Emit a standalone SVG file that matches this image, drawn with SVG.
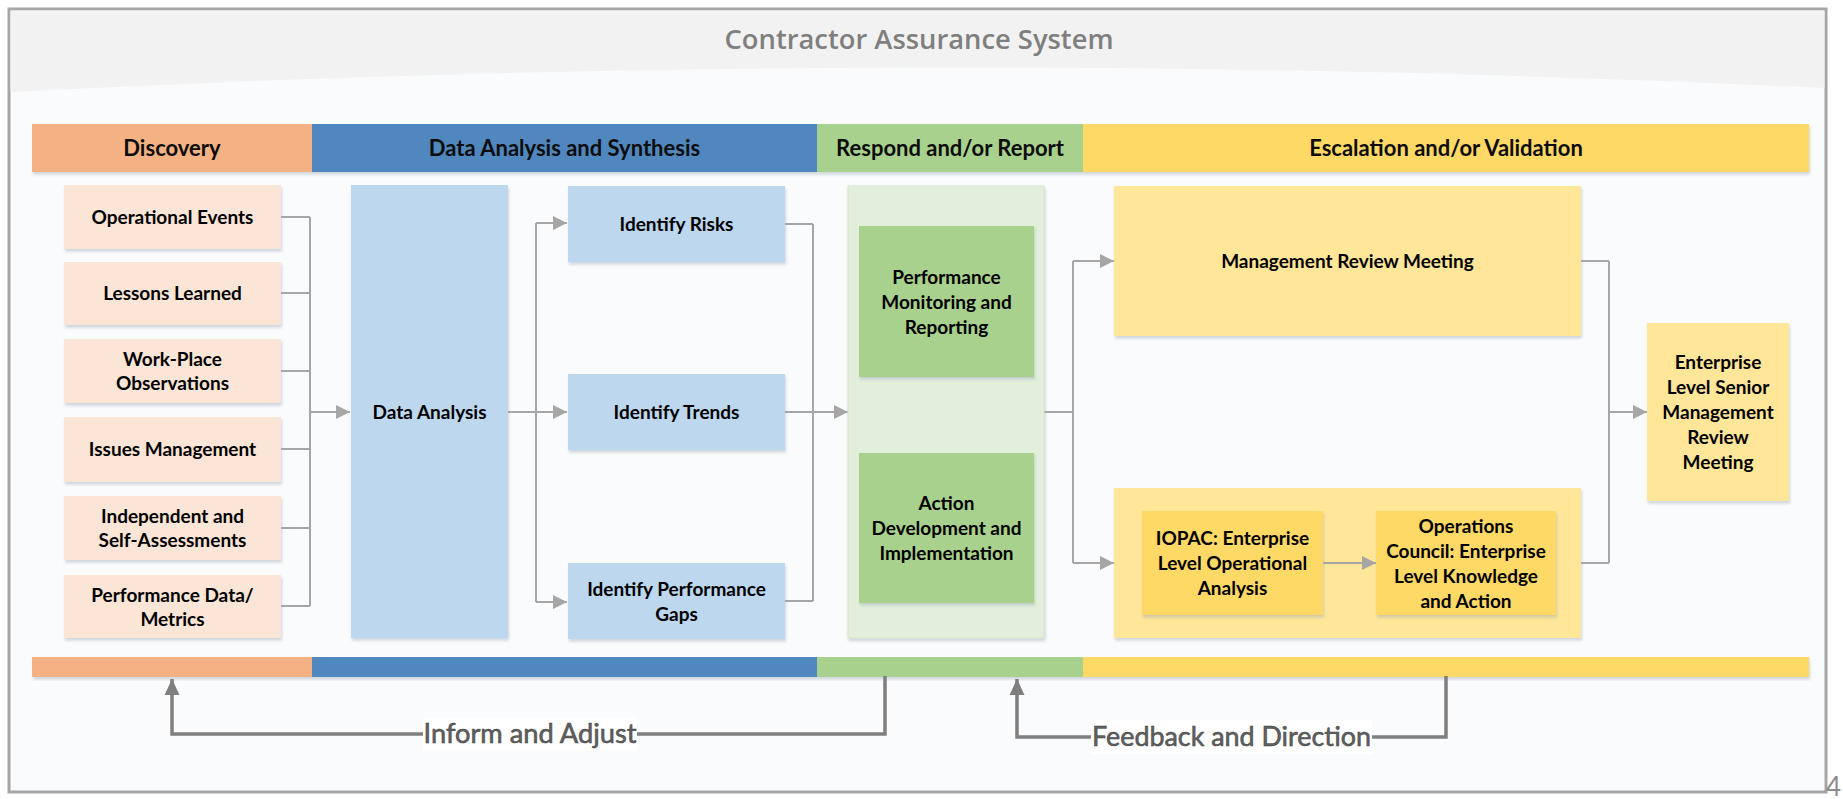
<svg xmlns="http://www.w3.org/2000/svg" width="1843" height="799" viewBox="0 0 1843 799">
<defs>
<filter id="sh" x="-10%" y="-10%" width="120%" height="130%">
<feDropShadow dx="1" dy="2.5" stdDeviation="1.5" flood-color="#9aa8b8" flood-opacity="0.45"/>
</filter>
<marker id="ah" markerUnits="userSpaceOnUse" markerWidth="14" markerHeight="14" refX="14" refY="7" orient="auto">
<path d="M0,0 L14,7 L0,14 Z" fill="#a6a6a6"/>
</marker>
<marker id="fb" markerUnits="userSpaceOnUse" markerWidth="16" markerHeight="16" refX="16" refY="8" orient="auto">
<path d="M0,0.5 L16,8 L0,15.5 Z" fill="#7f7f7f"/>
</marker>
<style>
.t{font-family:Lato,"Liberation Sans",sans-serif;font-weight:700;font-size:19px;fill:#000;text-anchor:middle}
.h{font-family:Lato,"Liberation Sans",sans-serif;font-weight:700;font-size:22px;fill:#0d0d0d;text-anchor:middle}
.fbt{font-family:Lato,"Liberation Sans",sans-serif;font-weight:400;font-size:26px;fill:#606060;stroke:#404040;stroke-width:0.5;text-anchor:middle}
.c{fill:none;stroke:#a6a6a6;stroke-width:2}
.f{fill:none;stroke:#7f7f7f;stroke-width:3.5}
.or{fill:#FBE5D6}
.bl{fill:#BDD7EE}
.gn{fill:#A9D18E}
.yl{fill:#FFE699}
.yd{fill:#FFD966}
</style>
</defs>

<g id="frame">
<rect x="9" y="9" width="1817" height="783" fill="#fafbfc" stroke="#a6a6a6" stroke-width="3"/>
<path d="M10.5,10.5 H1824.5 V88 Q920,45 10.5,92 Z" fill="#f2f2f2"/>
<text x="919" y="49" font-family="'Open Sans','Liberation Sans',sans-serif" font-weight="600" font-size="26.5" fill="#7f7f7f" text-anchor="middle" textLength="389" lengthAdjust="spacingAndGlyphs">Contractor Assurance System</text>
<text x="1826" y="796" font-family="Lato,'Liberation Sans',sans-serif" font-size="26" fill="#8c8c8c">4</text>
</g>

<g id="phase-headers" filter="url(#sh)">
<rect x="32" y="124" width="280" height="48" fill="#F4B183"/>
<rect x="312" y="124" width="505" height="48" fill="#4F87BE"/>
<rect x="817" y="124" width="266" height="48" fill="#A9D18E"/>
<rect x="1083" y="124" width="726" height="48" fill="#FFD966"/>
</g>
<g id="phase-header-labels">
<text class="h" x="172" y="156">Discovery</text>
<text class="h" x="564.5" y="156">Data Analysis and Synthesis</text>
<text class="h" x="950" y="156">Respond and/or Report</text>
<text class="h" x="1446" y="156" font-size="22.5">Escalation and/or Validation</text>
</g>

<g id="phase-footers" filter="url(#sh)">
<rect x="32" y="657" width="280" height="20" fill="#F4B183"/>
<rect x="312" y="657" width="505" height="20" fill="#4F87BE"/>
<rect x="817" y="657" width="266" height="20" fill="#A9D18E"/>
<rect x="1083" y="657" width="726" height="20" fill="#FFD966"/>
</g>

<g id="connectors">
<path class="c" d="M281,217 H310 M281,293 H310 M281,371 H310 M281,449 H310 M281,528 H310 M281,606 H310 M310,217 V606"/>
<path class="c" d="M310,412 H350" marker-end="url(#ah)"/>
<path class="c" d="M508,412 H536 M536,223 V602"/>
<path class="c" d="M536,223 H567" marker-end="url(#ah)"/>
<path class="c" d="M536,412 H567" marker-end="url(#ah)"/>
<path class="c" d="M536,602 H567" marker-end="url(#ah)"/>
<path class="c" d="M785,224 H813 M785,412 H813 M785,601 H813 M813,224 V601"/>
<path class="c" d="M813,412 H848" marker-end="url(#ah)"/>
<path class="c" d="M1044,412 H1073 M1073,261 V563"/>
<path class="c" d="M1073,261 H1114" marker-end="url(#ah)"/>
<path class="c" d="M1073,563 H1114" marker-end="url(#ah)"/>
<path class="c" d="M1581,261 H1609 M1581,563 H1609 M1609,261 V563"/>
<path class="c" d="M1609,412 H1647" marker-end="url(#ah)"/>
</g>

<g id="n-operational-events"><rect class="or" x="64" y="185" width="217" height="64" filter="url(#sh)"/><text class="t" x="172.5" y="224">Operational Events</text></g>
<g id="n-lessons-learned"><rect class="or" x="64" y="262" width="217" height="63" filter="url(#sh)"/><text class="t" x="172.5" y="300">Lessons Learned</text></g>
<g id="n-work-place"><rect class="or" x="64" y="339" width="217" height="64" filter="url(#sh)"/><text class="t" x="172.5" y="366">Work-Place</text><text class="t" x="172.5" y="390">Observations</text></g>
<g id="n-issues-management"><rect class="or" x="64" y="417" width="217" height="65" filter="url(#sh)"/><text class="t" x="172.5" y="456">Issues Management</text></g>
<g id="n-independent"><rect class="or" x="64" y="496" width="217" height="64" filter="url(#sh)"/><text class="t" x="172.5" y="523">Independent and</text><text class="t" x="172.5" y="547">Self-Assessments</text></g>
<g id="n-performance-data"><rect class="or" x="64" y="575" width="217" height="63" filter="url(#sh)"/><text class="t" x="172.5" y="602">Performance Data/</text><text class="t" x="172.5" y="626">Metrics</text></g>

<g id="n-data-analysis"><rect class="bl" x="351" y="185" width="157" height="453" filter="url(#sh)"/><text class="t" x="429.5" y="419">Data Analysis</text></g>
<g id="n-identify-risks"><rect class="bl" x="568" y="186" width="217" height="76" filter="url(#sh)"/><text class="t" x="676.5" y="231">Identify Risks</text></g>
<g id="n-identify-trends"><rect class="bl" x="568" y="374" width="217" height="76" filter="url(#sh)"/><text class="t" x="676.5" y="419">Identify Trends</text></g>
<g id="n-identify-gaps"><rect class="bl" x="568" y="563" width="217" height="76" filter="url(#sh)"/><text class="t" x="676.5" y="596">Identify Performance</text><text class="t" x="676.5" y="621">Gaps</text></g>

<g id="n-respond-container"><rect x="848" y="186" width="196" height="452" fill="#E2EFDA" stroke="#d6e6cc" stroke-width="1" filter="url(#sh)"/></g>
<g id="n-performance-monitoring"><rect class="gn" x="859" y="226" width="175" height="151" filter="url(#sh)"/><text class="t" x="946.5" y="284">Performance</text><text class="t" x="946.5" y="309">Monitoring and</text><text class="t" x="946.5" y="334">Reporting</text></g>
<g id="n-action-development"><rect class="gn" x="859" y="453" width="175" height="150" filter="url(#sh)"/><text class="t" x="946.5" y="510">Action</text><text class="t" x="946.5" y="535">Development and</text><text class="t" x="946.5" y="560">Implementation</text></g>

<g id="n-management-review"><rect class="yl" x="1114" y="186" width="467" height="150" filter="url(#sh)"/><text class="t" x="1347.5" y="268">Management Review Meeting</text></g>
<g id="n-enterprise-container"><rect class="yl" x="1114" y="488" width="467" height="150" filter="url(#sh)"/></g>
<g id="n-iopac"><rect class="yd" x="1142" y="511" width="181" height="104" filter="url(#sh)"/><text class="t" x="1232.5" y="545">IOPAC: Enterprise</text><text class="t" x="1232.5" y="570">Level Operational</text><text class="t" x="1232.5" y="595">Analysis</text></g>
<g id="n-operations-council"><rect class="yd" x="1376" y="511" width="180" height="104" filter="url(#sh)"/><text class="t" x="1466" y="533">Operations</text><text class="t" x="1466" y="558">Council: Enterprise</text><text class="t" x="1466" y="583">Level Knowledge</text><text class="t" x="1466" y="608">and Action</text></g>
<g id="n-enterprise-senior"><rect class="yl" x="1647" y="323" width="142" height="178" filter="url(#sh)"/><text class="t" x="1718" y="369">Enterprise</text><text class="t" x="1718" y="394">Level Senior</text><text class="t" x="1718" y="419">Management</text><text class="t" x="1718" y="444">Review</text><text class="t" x="1718" y="469">Meeting</text></g>

<g id="iopac-link">
<path class="c" d="M1323,563 H1376" marker-end="url(#ah)"/>
</g>

<g id="feedback-connectors">
<path class="f" d="M885,676 V734 H172 V679" marker-end="url(#fb)"/>
<rect x="423" y="717" width="214" height="34" fill="#ffffff"/>
<text class="fbt" x="530" y="743" textLength="213" lengthAdjust="spacingAndGlyphs">Inform and Adjust</text>
<path class="f" d="M1446,676 V737 H1017 V679" marker-end="url(#fb)"/>
<rect x="1091" y="720" width="281" height="34" fill="#ffffff"/>
<text class="fbt" x="1231.5" y="746" textLength="279" lengthAdjust="spacingAndGlyphs">Feedback and Direction</text>
</g>
</svg>
